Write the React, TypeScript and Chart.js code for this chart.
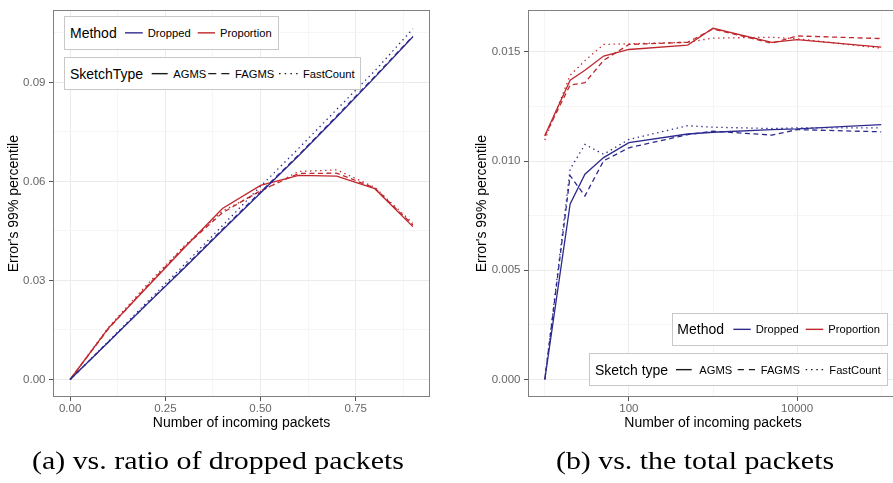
import React, { useEffect, useRef } from "react";
import { Chart, registerables } from "chart.js";

Chart.register(...registerables);

// ---------------- Data ----------------
// Panel (a): x = ratio of dropped packets
const ratioX = [0, 0.1, 0.2, 0.3, 0.4, 0.5, 0.6, 0.7, 0.8, 0.9];
const aDroppedAGMS = [0, 0.0113, 0.0226, 0.0338, 0.0452, 0.0565, 0.0678, 0.0795, 0.0915, 0.1038];
const aDroppedFAGMS = [0, 0.0113, 0.0227, 0.034, 0.0455, 0.0568, 0.068, 0.0798, 0.0918, 0.104];
const aDroppedFastCount = [0, 0.0115, 0.0232, 0.0348, 0.0466, 0.0585, 0.07, 0.0818, 0.0935, 0.1062];
const aPropAGMS = [0, 0.0155, 0.0277, 0.0399, 0.0518, 0.0588, 0.0618, 0.0616, 0.0578, 0.0463];
const aPropFAGMS = [0, 0.0153, 0.028, 0.0402, 0.0505, 0.0572, 0.0624, 0.0625, 0.058, 0.0468];
const aPropFastCount = [0, 0.0157, 0.0285, 0.0405, 0.051, 0.057, 0.063, 0.0635, 0.0582, 0.0473];

// Panel (b): x = total packets (log scale)
const totalX = [10, 20, 30, 50, 100, 500, 1000, 5000, 10000, 100000];
const bDroppedAGMS = [0, 0.00804, 0.0094, 0.01016, 0.01084, 0.01124, 0.01132, 0.01144, 0.01147, 0.01167];
const bDroppedFAGMS = [0, 0.00933, 0.0084, 0.01001, 0.01061, 0.01121, 0.01137, 0.01119, 0.01144, 0.01134];
const bDroppedFastCount = [0, 0.00963, 0.01076, 0.01031, 0.01099, 0.01162, 0.01155, 0.01149, 0.01152, 0.01152];
const bPropAGMS = [0.01117, 0.0137, 0.01416, 0.01481, 0.01511, 0.01531, 0.01608, 0.01544, 0.01556, 0.01522];
const bPropFAGMS = [0.01115, 0.01348, 0.01359, 0.01461, 0.01534, 0.01544, 0.01605, 0.0154, 0.01573, 0.01561];
const bPropFastCount = [0.01096, 0.01393, 0.0146, 0.01534, 0.01537, 0.01544, 0.01563, 0.01567, 0.0156, 0.01517];

// Tick labels / break positions
const aXMajor = [0, 0.25, 0.5, 0.75];
const aXMinor = [0.125, 0.375, 0.625, 0.875];
const aYMajor = [0, 0.03, 0.06, 0.09];
const aYMinor = [0.015, 0.045, 0.075, 0.105];
const bXMajor = [100, 10000];
const bXMinor = [10, 1000, 100000];
const bYMajor = [0, 0.005, 0.01, 0.015];
const bYMinor = [0.0025, 0.0075, 0.0125];

const methods = ["Dropped", "Proportion"];
const sketchTypes = ["AGMS", "FAGMS", "FastCount"];

// ---------------- Styles ----------------
const FONT = "'Liberation Sans', Arial, Helvetica, sans-serif";
const BLUE = "#2d2a8e";
const RED = "#c0272d";
const GRID_MAJOR = "#ebebeb";
const GRID_MINOR = "#f5f5f5";
const TICK_COLOR = "#666666";
const TICK_MARK = "#555555";
const DASHES: number[][] = [[], [5, 3.5], [1.4, 3.6]];

function line(xs: number[], ys: number[], color: string, dash: number[]) {
  return {
    data: xs.map((x, i) => ({ x, y: ys[i] })),
    borderColor: color,
    backgroundColor: color,
    borderWidth: 1.3,
    borderDash: dash,
    pointRadius: 0,
    pointHoverRadius: 0,
    tension: 0,
    fill: false,
  };
}

const near = (a: number, list: number[]) => list.some((v) => Math.abs(v - a) < 1e-9 * Math.max(1, Math.abs(v)));

const borderPlugin = {
  id: "panelBorder",
  afterDraw(chart: any) {
    const { ctx, chartArea } = chart;
    const { left, top, right, bottom } = chartArea;
    ctx.save();
    ctx.strokeStyle = "#808080";
    ctx.lineWidth = 1;
    ctx.strokeRect(Math.round(left) + 0.5, Math.round(top) + 0.5, Math.round(right - left) - 1, Math.round(bottom - top) - 1);
    ctx.restore();
  },
};

function axisCommon(major: number[], minor: number[], fmt: (v: number) => string) {
  return {
    afterBuildTicks: (s: any) => {
      s.ticks = [...major, ...minor].sort((a, b) => a - b).map((v) => ({ value: v }));
    },
    ticks: {
      autoSkip: false,
      maxRotation: 0,
      minRotation: 0,
      color: TICK_COLOR,
      font: { family: FONT, size: 11.5 },
      callback: (v: any) => (near(Number(v), major) ? fmt(Number(v)) : ""),
    },
    grid: {
      color: (c: any) => (c.tick && near(c.tick.value, major) ? GRID_MAJOR : GRID_MINOR),
      lineWidth: 1,
      tickLength: 4,
      tickColor: (c: any) => (c.tick && near(c.tick.value, major) ? TICK_MARK : "rgba(0,0,0,0)"),
      drawTicks: true,
    },
    border: { display: false },
  };
}

function buildConfig(p: {
  datasets: any[];
  xType: string;
  xMin: number;
  xMax: number;
  xMajor: number[];
  xMinor: number[];
  xFmt: (v: number) => string;
  yMin: number;
  yMax: number;
  yMajor: number[];
  yMinor: number[];
  yFmt: (v: number) => string;
  yAxisWidth: number;
  yTitlePad: number;
  padTop: number;
  padRight: number;
}) {
  const xc = axisCommon(p.xMajor, p.xMinor, p.xFmt);
  const yc = axisCommon(p.yMajor, p.yMinor, p.yFmt);
  return {
    type: "line" as const,
    data: { datasets: p.datasets },
    plugins: [borderPlugin],
    options: {
      animation: false as const,
      responsive: false,
      maintainAspectRatio: false,
      events: [],
      layout: { padding: { left: 0, top: p.padTop, right: p.padRight, bottom: 0 } },
      plugins: { legend: { display: false }, tooltip: { enabled: false }, title: { display: false } },
      scales: {
        x: {
          type: p.xType,
          min: p.xMin,
          max: p.xMax,
          ...xc,
          ticks: { ...xc.ticks, padding: 1 },
          afterFit: (s: any) => {
            s.height = 43;
          },
          title: {
            display: true,
            text: "Number of incoming packets",
            color: "#000",
            font: { family: FONT, size: 14 },
            padding: { top: 0, bottom: 8 },
          },
        },
        y: {
          type: "linear",
          min: p.yMin,
          max: p.yMax,
          ...yc,
          ticks: { ...yc.ticks, padding: 3.5 },
          afterFit: (s: any) => {
            s.width = p.yAxisWidth;
          },
          title: {
            display: true,
            text: "Error's 99% percentile",
            color: "#000",
            font: { family: FONT, size: 14 },
            padding: { top: p.yTitlePad, bottom: 0 },
          },
        },
      },
    },
  };
}

function ChartCanvas({ build, left, top, width, height }: any) {
  const ref = useRef<HTMLCanvasElement>(null);
  useEffect(() => {
    const chart = new Chart(ref.current as HTMLCanvasElement, build() as any);
    return () => chart.destroy();
  }, []);
  return (
    <canvas
      ref={ref}
      width={width}
      height={height}
      style={{ position: "absolute", left, top, width, height, display: "block" }}
    />
  );
}

const buildA = () =>
  buildConfig({
    datasets: [
      line(ratioX, aDroppedAGMS, BLUE, DASHES[0]),
      line(ratioX, aDroppedFAGMS, BLUE, DASHES[1]),
      line(ratioX, aDroppedFastCount, BLUE, DASHES[2]),
      line(ratioX, aPropAGMS, RED, DASHES[0]),
      line(ratioX, aPropFAGMS, RED, DASHES[1]),
      line(ratioX, aPropFastCount, RED, DASHES[2]),
    ],
    xType: "linear",
    xMin: -0.045,
    xMax: 0.945,
    xMajor: aXMajor,
    xMinor: aXMinor,
    xFmt: (v) => v.toFixed(2),
    yMin: -0.0053,
    yMax: 0.1118,
    yMajor: aYMajor,
    yMinor: aYMinor,
    yFmt: (v) => v.toFixed(2),
    yAxisWidth: 53,
    yTitlePad: 5.6,
    padTop: 5,
    padRight: 10,
  });

const buildB = () =>
  buildConfig({
    datasets: [
      line(totalX, bDroppedAGMS, BLUE, DASHES[0]),
      line(totalX, bDroppedFAGMS, BLUE, DASHES[1]),
      line(totalX, bDroppedFastCount, BLUE, DASHES[2]),
      line(totalX, bPropAGMS, RED, DASHES[0]),
      line(totalX, bPropFAGMS, RED, DASHES[1]),
      line(totalX, bPropFastCount, RED, DASHES[2]),
    ],
    xType: "logarithmic",
    xMin: Math.pow(10, 0.8),
    xMax: Math.pow(10, 5.2),
    xMajor: bXMajor,
    xMinor: bXMinor,
    xFmt: (v) => String(Math.round(v)),
    yMin: -0.000805,
    yMax: 0.0169,
    yMajor: bYMajor,
    yMinor: bYMinor,
    yFmt: (v) => v.toFixed(3),
    yAxisWidth: 88,
    yTitlePad: 33.6,
    padTop: 6,
    padRight: 12,
  });

// ---------------- Legends (HTML + SVG) ----------------
type KeyDef = { x1: number; x2: number; tx: number; label: string; color: string; dash: string };
type LegendDef = { x: number; y: number; w: number; h: number; title: string; titleX: number; keys: KeyDef[] };

const KEY_BLACK = "#1a1a1a";

const legends: LegendDef[] = [
  {
    x: 64, y: 15.7, w: 215, h: 34.3, title: "Method", titleX: 70,
    keys: [
      { x1: 125, x2: 142.7, tx: 147.7, label: methods[0], color: BLUE, dash: "" },
      { x1: 197.7, x2: 215, tx: 220, label: methods[1], color: RED, dash: "" },
    ],
  },
  {
    x: 64, y: 57.3, w: 297, h: 32.7, title: "SketchType", titleX: 70,
    keys: [
      { x1: 151.7, x2: 167.7, tx: 173.3, label: sketchTypes[0], color: KEY_BLACK, dash: "" },
      { x1: 208.3, x2: 229.3, tx: 235, label: sketchTypes[1], color: KEY_BLACK, dash: "8 5" },
      { x1: 279, x2: 297.7, tx: 303, label: sketchTypes[2], color: KEY_BLACK, dash: "1.5 4.2" },
    ],
  },
  {
    x: 672.3, y: 312.7, w: 215.4, h: 33.3, title: "Method", titleX: 677.3,
    keys: [
      { x1: 733.3, x2: 750.7, tx: 755.7, label: methods[0], color: BLUE, dash: "" },
      { x1: 805.7, x2: 823.3, tx: 828.3, label: methods[1], color: RED, dash: "" },
    ],
  },
  {
    x: 589.3, y: 353.3, w: 298.4, h: 32.7, title: "Sketch type", titleX: 595,
    keys: [
      { x1: 676, x2: 691.7, tx: 699.3, label: sketchTypes[0], color: KEY_BLACK, dash: "" },
      { x1: 737.7, x2: 755, tx: 760.7, label: sketchTypes[1], color: KEY_BLACK, dash: "6.2 5" },
      { x1: 805.7, x2: 823.3, tx: 829.3, label: sketchTypes[2], color: KEY_BLACK, dash: "1.5 3.8" },
    ],
  },
];

function Legend({ d }: { d: LegendDef }) {
  const cy = d.y + d.h / 2;
  const textStyle = (left: number, size: number): React.CSSProperties => ({
    position: "absolute",
    left,
    top: cy - 10,
    height: 20,
    lineHeight: "20px",
    fontSize: size,
    fontFamily: FONT,
    color: "#000",
    whiteSpace: "nowrap",
  });
  return (
    <>
      <div
        style={{
          position: "absolute",
          left: d.x,
          top: d.y,
          width: d.w,
          height: d.h,
          boxSizing: "border-box",
          border: "1px solid #c8c8c8",
          background: "#fff",
        }}
      />
      <span style={textStyle(d.titleX, 14)}>{d.title}</span>
      {d.keys.map((k, i) => (
        <span key={i} style={textStyle(k.tx, 11.2)}>
          {k.label}
        </span>
      ))}
      <svg
        width={893}
        height={483}
        style={{ position: "absolute", left: 0, top: 0, pointerEvents: "none" }}
      >
        {d.keys.map((k, i) => (
          <line
            key={i}
            x1={k.x1}
            x2={k.x2}
            y1={cy}
            y2={cy}
            stroke={k.color}
            strokeWidth={1.4}
            strokeDasharray={k.dash || undefined}
          />
        ))}
      </svg>
    </>
  );
}

const captionStyle = (cx: number): React.CSSProperties => ({
  position: "absolute",
  left: cx - 250,
  width: 500,
  top: 446,
  height: 30,
  lineHeight: "30px",
  textAlign: "center",
  fontFamily: "'Liberation Serif', 'Times New Roman', serif",
  fontSize: 26,
  color: "#000",
  transform: "scaleX(1.15)",
  transformOrigin: "center",
  whiteSpace: "nowrap",
});

export default function App() {
  return (
    <div
      style={{
        position: "absolute",
        left: 0,
        top: 0,
        width: 893,
        height: 483,
        overflow: "hidden",
        background: "#fff",
      }}
    >
      <ChartCanvas build={buildA} left={0} top={0} width={440} height={440} />
      <ChartCanvas build={buildB} left={440} top={0} width={470} height={440} />
      {legends.map((d, i) => (
        <Legend key={i} d={d} />
      ))}
      <div style={captionStyle(218)}>(a) vs. ratio of dropped packets</div>
      <div style={captionStyle(695)}>(b) vs. the total packets</div>
    </div>
  );
}
